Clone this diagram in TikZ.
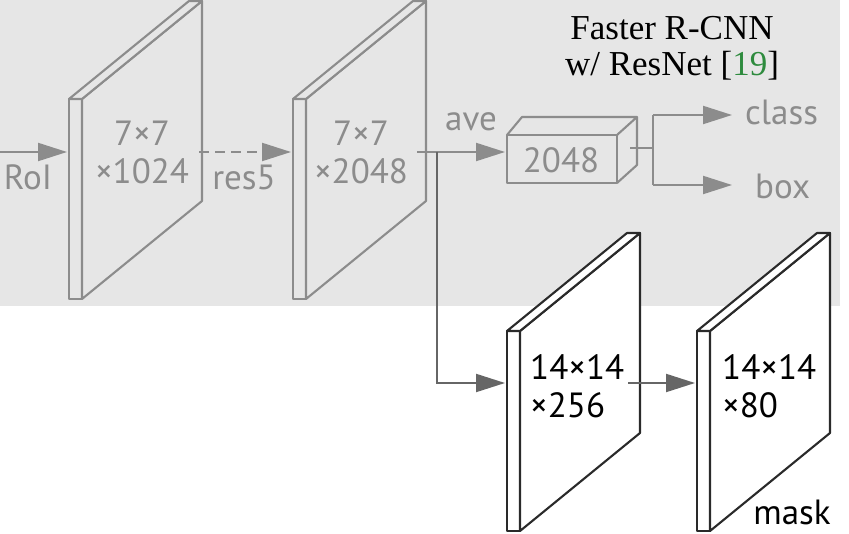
\documentclass[tikz,border=0pt]{standalone}
\usepackage{fontspec}
\setmainfont{PT Sans}
\newfontfamily\citefont{Liberation Serif}
\usetikzlibrary{arrows.meta}
\definecolor{bg}{HTML}{E6E6E6}
\definecolor{lg}{HTML}{8C8C8C}
\definecolor{dk}{HTML}{2A2A2A}
\definecolor{ar}{HTML}{666666}
\definecolor{citegreen}{HTML}{2E8B3E}
\newcommand\mkslab[4]{%
  \filldraw[draw=#3,fill=#4,line width=2.1pt,line join=round] (#1,#2) rectangle ++(13,200);
  \filldraw[draw=#3,fill=#4,line width=2.1pt,line join=round] (#1+13,#2) -- ++(120,-98) -- ++(0,200) -- ++(-120,98) -- cycle;
  \filldraw[draw=#3,fill=#4,line width=2.1pt,line join=round] (#1,#2) -- ++(120,-98) -- ++(13,0) -- ++(-120,98) -- cycle;
}
\begin{document}
\begin{tikzpicture}[x=1pt,y=-1pt,
  lbl/.style={inner sep=0pt,font=\fontsize{35}{38}\selectfont},
  glbl/.style={lbl,text=lg},
  blbl/.style={lbl,text=black},
  garrow/.style={draw=lg,line width=2.1pt,-{Triangle[length=29pt,width=18pt]}},
  gline/.style={draw=lg,line width=2.1pt},
  darrow/.style={draw=ar,line width=2.1pt,-{Triangle[length=29pt,width=18pt]}},
  dline/.style={draw=ar,line width=2.1pt}]
\useasboundingbox (0,0) rectangle (849,534);
\fill[bg] (0,0) rectangle (840,306);

% slabs
\mkslab{69}{99}{lg}{bg}
\mkslab{293}{99}{lg}{bg}
\mkslab{507}{331}{dk}{white}
\mkslab{697}{331}{dk}{white}

% 2048 box
\filldraw[draw=lg,fill=bg,line width=2.1pt,line join=round] (507,135) rectangle (617,183);
\draw[lg,line width=2.1pt,line join=round] (507,135) -- (522,117) -- (637,117) -- (617,135);
\draw[lg,line width=2.1pt,line join=round] (637,117) -- (637,165) -- (617,183);

% text
\node[glbl,align=center] (t1) at (142,152) {7×7\\×1024};
\node[glbl,align=center] (t2) at (361,152) {7×7\\×2048};
\node[glbl] (t2048) at (561,160) {2048};
\node[glbl] (roi) at (28,177) {RoI};
\node[glbl] (res) at (244,177) {res5};
\node[glbl] (ave) at (471,122) {ave};
\node[glbl,anchor=west] (cls) at (745,112) {class};
\node[glbl,anchor=west] (bx) at (755,186) {box};
\node[blbl,align=left,anchor=west] (t3) at (530,386) {14×14\\×256};
\node[blbl,align=left,anchor=west] (t4) at (722,386) {14×14\\×80};
\node[blbl] (mask) at (792,512) {mask};
\node[inner sep=0pt,align=center,font=\citefont\fontsize{35}{36}\selectfont] (title) at (672,48)
  {Faster R-CNN\\w/ ResNet [{\color{citegreen}19}]};

% connector coordinates
\coordinate (roiS) at (0,152);
\coordinate (roiE) at (67,152);
\coordinate (d1S) at (199,152);
\coordinate (d1E) at (291,152);
\coordinate (s2out) at (417,152);
\coordinate (split) at (437,152);
\coordinate (boxIn) at (505,152);
\coordinate (corner) at (437,383);
\coordinate (s3In) at (505,383);
\coordinate (boxOut) at (630,148);
\coordinate (fork) at (653,148);
\coordinate (forkT) at (653,115);
\coordinate (forkB) at (653,185);
\coordinate (clsIn) at (732,115);
\coordinate (bxIn) at (732,185);
\coordinate (s3out) at (628,383);
\coordinate (s4In) at (695,383);

% connectors
\draw[garrow] (roiS) -- (roiE);
\draw[garrow,dash pattern=on 10pt off 6pt] (d1S) -- (d1E);
\draw[garrow] (s2out) -- (boxIn);
\draw[darrow] (split) -- (corner) -- (s3In);
\draw[gline] (boxOut) -- (fork);
\draw[gline] (forkT) -- (forkB);
\draw[garrow] (forkT) -- (clsIn);
\draw[garrow] (forkB) -- (bxIn);
\draw[darrow] (s3out) -- (s4In);
\end{tikzpicture}
\end{document}
